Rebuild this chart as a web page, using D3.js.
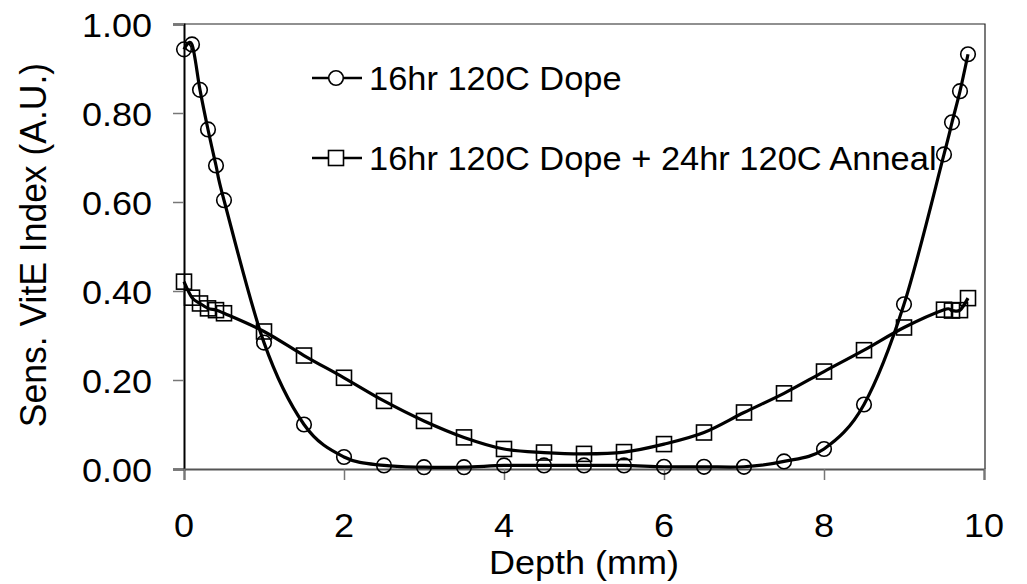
<!DOCTYPE html>
<html>
<head>
<meta charset="utf-8">
<script src="https://cdn.jsdelivr.net/npm/d3@7"></script>
<style>
  html, body { margin: 0; padding: 0; background: #fff; }
  svg { display: block; }
  text { font-family: "Liberation Sans", Arial, sans-serif; fill: #000; }
</style>
</head>
<body>
<svg id="chart" width="1027" height="584"></svg>
<script>
// Depth profiles of the sensitised vitamin E index
const dopeDepth = [0, 0.1, 0.2, 0.3, 0.4, 0.5, 1, 1.5, 2, 2.5, 3, 3.5, 4, 4.5, 5, 5.5, 6, 6.5, 7, 7.5, 8, 8.5, 9, 9.5, 9.6, 9.7, 9.8];
const dopeIndex = [0.943, 0.954, 0.852, 0.763, 0.682, 0.604, 0.284, 0.100, 0.027, 0.008, 0.004, 0.004, 0.008, 0.008, 0.008, 0.008, 0.005, 0.005, 0.005, 0.017, 0.045, 0.145, 0.370, 0.707, 0.779, 0.849, 0.932];

const annealDepth = [0, 0.1, 0.2, 0.3, 0.4, 0.5, 1, 1.5, 2, 2.5, 3, 3.5, 4, 4.5, 5, 5.5, 6, 6.5, 7, 7.5, 8, 8.5, 9, 9.5, 9.6, 9.7, 9.8];
const annealIndex = [0.421, 0.385, 0.372, 0.361, 0.357, 0.350, 0.309, 0.255, 0.205, 0.153, 0.108, 0.071, 0.045, 0.037, 0.034, 0.038, 0.056, 0.082, 0.127, 0.170, 0.219, 0.267, 0.318, 0.358, 0.356, 0.357, 0.384];

const seriesNames = ["16hr 120C Dope", "16hr 120C Dope + 24hr 120C Anneal"];
const xTicks = [0, 2, 4, 6, 8, 10];
const yTicks = [0, 0.2, 0.4, 0.6, 0.8, 1.0];
const xTitle = "Depth (mm)";
const yTitle = "Sens. VitE Index (A.U.)";

const svg = d3.select("#chart");
const plotLeft = 184, plotRight = 984, plotTop = 24, plotBottom = 469;

const x = d3.scaleLinear().domain([0, 10]).range([plotLeft, plotRight]);
const y = d3.scaleLinear().domain([0, 1]).range([plotBottom, plotTop]);

const FONT = 34;
const STRETCH = 1.06;

// plot frame (top and right edges)
svg.append("path")
  .attr("d", `M${plotLeft},${plotTop}H${plotRight + 1}V${plotBottom}`)
  .attr("fill", "none").attr("stroke", "#222").attr("stroke-width", 1.2);

// y axis
const yAxis = svg.append("g").attr("transform", `translate(${plotLeft},0)`)
  .call(d3.axisLeft(y).tickValues(yTicks).tickSize(11).tickFormat(""));
yAxis.select(".domain").attr("stroke", "#000").attr("stroke-width", 2);
yAxis.selectAll(".tick line").attr("stroke", "#777").attr("stroke-width", 1.5);

// x axis
const xAxis = svg.append("g").attr("transform", `translate(0,${plotBottom})`)
  .call(d3.axisBottom(x).tickValues(xTicks).tickSize(11).tickFormat(""));
xAxis.select(".domain").attr("stroke", "#555").attr("stroke-width", 2);
xAxis.selectAll(".tick line").attr("stroke", "#777").attr("stroke-width", 1.5);

// tick labels
svg.append("g").selectAll("text").data(yTicks).join("text")
  .attr("transform", d => `translate(152,${y(d) + 12.5}) scale(${STRETCH},1)`)
  .attr("text-anchor", "end").attr("font-size", FONT)
  .text(d3.format(".2f"));

svg.append("g").selectAll("text").data(xTicks).join("text")
  .attr("transform", d => `translate(${x(d)},537) scale(${STRETCH},1)`)
  .attr("text-anchor", "middle").attr("font-size", FONT)
  .text(d => d);

// axis titles
svg.append("text")
  .attr("transform", `translate(${(plotLeft + plotRight) / 2},574) scale(${STRETCH},1)`)
  .attr("text-anchor", "middle").attr("font-size", FONT)
  .text(xTitle);

svg.append("text")
  .attr("transform", `translate(46,245) rotate(-90) scale(1,${STRETCH})`)
  .attr("text-anchor", "middle").attr("font-size", 35.5)
  .text(yTitle);

// series
const line = d3.line()
  .x(d => x(d[0])).y(d => y(d[1]))
  .curve(d3.curveCatmullRom.alpha(0));

const dopePts = d3.zip(dopeDepth, dopeIndex);
const annealPts = d3.zip(annealDepth, annealIndex);

svg.append("path").datum(annealPts)
  .attr("d", line).attr("fill", "none").attr("stroke", "#000").attr("stroke-width", 3.2);
svg.append("path").datum(dopePts)
  .attr("d", line).attr("fill", "none").attr("stroke", "#000").attr("stroke-width", 3.2);

const SQ = 15, R = 7.3;

svg.append("g").selectAll("rect").data(annealPts).join("rect")
  .attr("x", d => x(d[0]) - SQ / 2).attr("y", d => y(d[1]) - SQ / 2)
  .attr("width", SQ).attr("height", SQ)
  .attr("fill", "none").attr("stroke", "#000").attr("stroke-width", 1.6);

svg.append("g").selectAll("circle").data(dopePts).join("circle")
  .attr("cx", d => x(d[0])).attr("cy", d => y(d[1])).attr("r", R)
  .attr("fill", "none").attr("stroke", "#000").attr("stroke-width", 1.6);

// legend
const legend = svg.append("g");
const legendRows = [
  { name: seriesNames[0], shape: "circle", cy: 78, base: 89.5 },
  { name: seriesNames[1], shape: "square", cy: 158, base: 169.5 }
];
legendRows.forEach(r => {
  legend.append("line")
    .attr("x1", 312).attr("x2", 362).attr("y1", r.cy).attr("y2", r.cy)
    .attr("stroke", "#000").attr("stroke-width", 2.5);
  if (r.shape === "circle") {
    legend.append("circle").attr("cx", 336).attr("cy", r.cy).attr("r", R)
      .attr("fill", "#fff").attr("stroke", "#000").attr("stroke-width", 1.6);
  } else {
    legend.append("rect").attr("x", 336 - SQ / 2).attr("y", r.cy - SQ / 2)
      .attr("width", SQ).attr("height", SQ)
      .attr("fill", "#fff").attr("stroke", "#000").attr("stroke-width", 1.6);
  }
  legend.append("text")
    .attr("transform", `translate(369,${r.base}) scale(${STRETCH},1)`)
    .attr("font-size", 32.5).text(r.name);
});
</script>
</body>
</html>
